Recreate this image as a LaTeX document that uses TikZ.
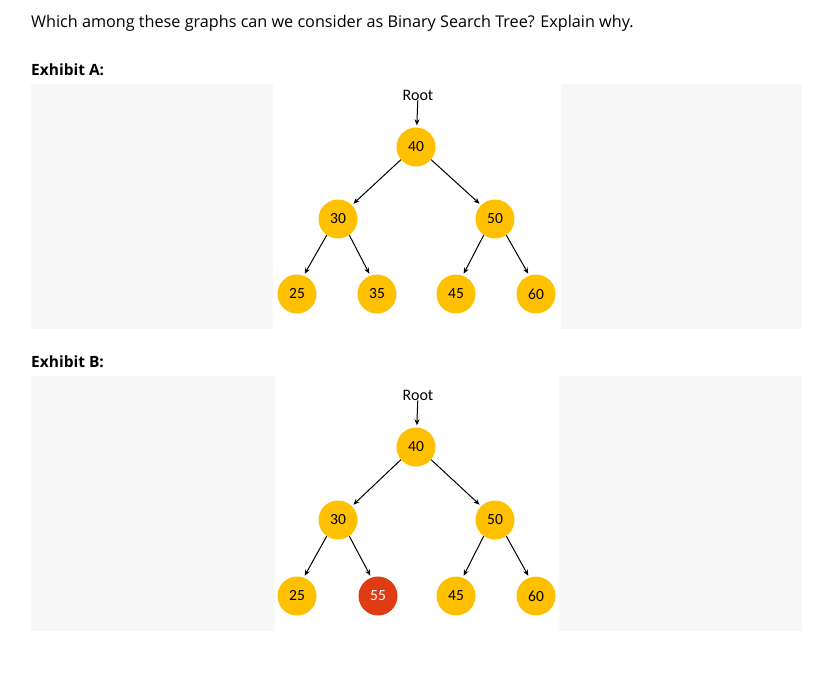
\documentclass[tikz,border=0pt]{standalone}
\usepackage{fontspec}
\setmainfont{Open Sans}
\newfontfamily\carfont{Carlito}
\usetikzlibrary{arrows.meta}
\definecolor{gold}{HTML}{FFC000}
\definecolor{redn}{HTML}{E03C14}
\definecolor{panel}{HTML}{F7F7F7}
\begin{document}
\begin{tikzpicture}[x=1pt,y=-1pt,
  bst/.style={circle,fill=gold,minimum size=39pt,inner sep=0pt,font=\carfont\fontsize{15.5}{15.5}\selectfont},
  bad/.style={bst,fill=redn,text=white},
  edge/.style={-{Stealth[length=6pt,width=5pt]},line width=1pt,shorten >=2pt},
  lbl/.style={font=\carfont\fontsize{16}{16}\selectfont,inner sep=0pt},
  pnl/.style={fill=panel,draw=none}]
\useasboundingbox (0,0) rectangle (829,683);
\node[anchor=west,inner sep=0pt,font=\fontsize{16.2}{16}\selectfont] (q) at (31,23) {Which among these graphs can we consider as Binary Search Tree? Explain why.};
\node[anchor=west,inner sep=0pt,font=\bfseries\fontsize{15.5}{15}\selectfont] (ea) at (31,70) {Exhibit A:};
\node[anchor=west,inner sep=0pt,font=\bfseries\fontsize{15.5}{15}\selectfont] (eb) at (31,362) {Exhibit B:};
\fill[panel] (31,84) rectangle (273,329);
\fill[panel] (561,84) rectangle (802,329);
\fill[panel] (31,376) rectangle (275,631);
\fill[panel] (559,376) rectangle (802,631);
% A
\node[lbl] (ra) at (418,95) {Root};
\node[bst] (a40) at (416,147) {40};
\node[bst] (a30) at (338,219) {30};
\node[bst] (a50) at (495,219) {50};
\node[bst] (a25) at (297,294) {25};
\node[bst] (a35) at (377,294) {35};
\node[bst] (a45) at (456,294) {45};
\node[bst] (a60) at (536,294) {60};
\draw[edge] (ra) -- (a40);
\draw[edge] (a40.220) -- (a30.45);
\draw[edge] (a40.320) -- (a50.135);
\draw[edge] (a30.235) -- (a25.70);
\draw[edge] (a30.305) -- (a35.110);
\draw[edge] (a50.235) -- (a45.70);
\draw[edge] (a50.305) -- (a60.110);
% B
\node[lbl] (rb) at (418,395) {Root};
\node[bst] (b40) at (416,447) {40};
\node[bst] (b30) at (338,520) {30};
\node[bst] (b50) at (495,520) {50};
\node[bst] (b25) at (297,596) {25};
\node[bad] (b55) at (378,596) {55};
\node[bst] (b45) at (456,596) {45};
\node[bst] (b60) at (536,596) {60};
\draw[edge] (rb) -- (b40);
\draw[edge] (b40.220) -- (b30.45);
\draw[edge] (b40.320) -- (b50.135);
\draw[edge] (b30.235) -- (b25.70);
\draw[edge] (b30.305) -- (b55.110);
\draw[edge] (b50.235) -- (b45.70);
\draw[edge] (b50.305) -- (b60.110);
\end{tikzpicture}
\end{document}
